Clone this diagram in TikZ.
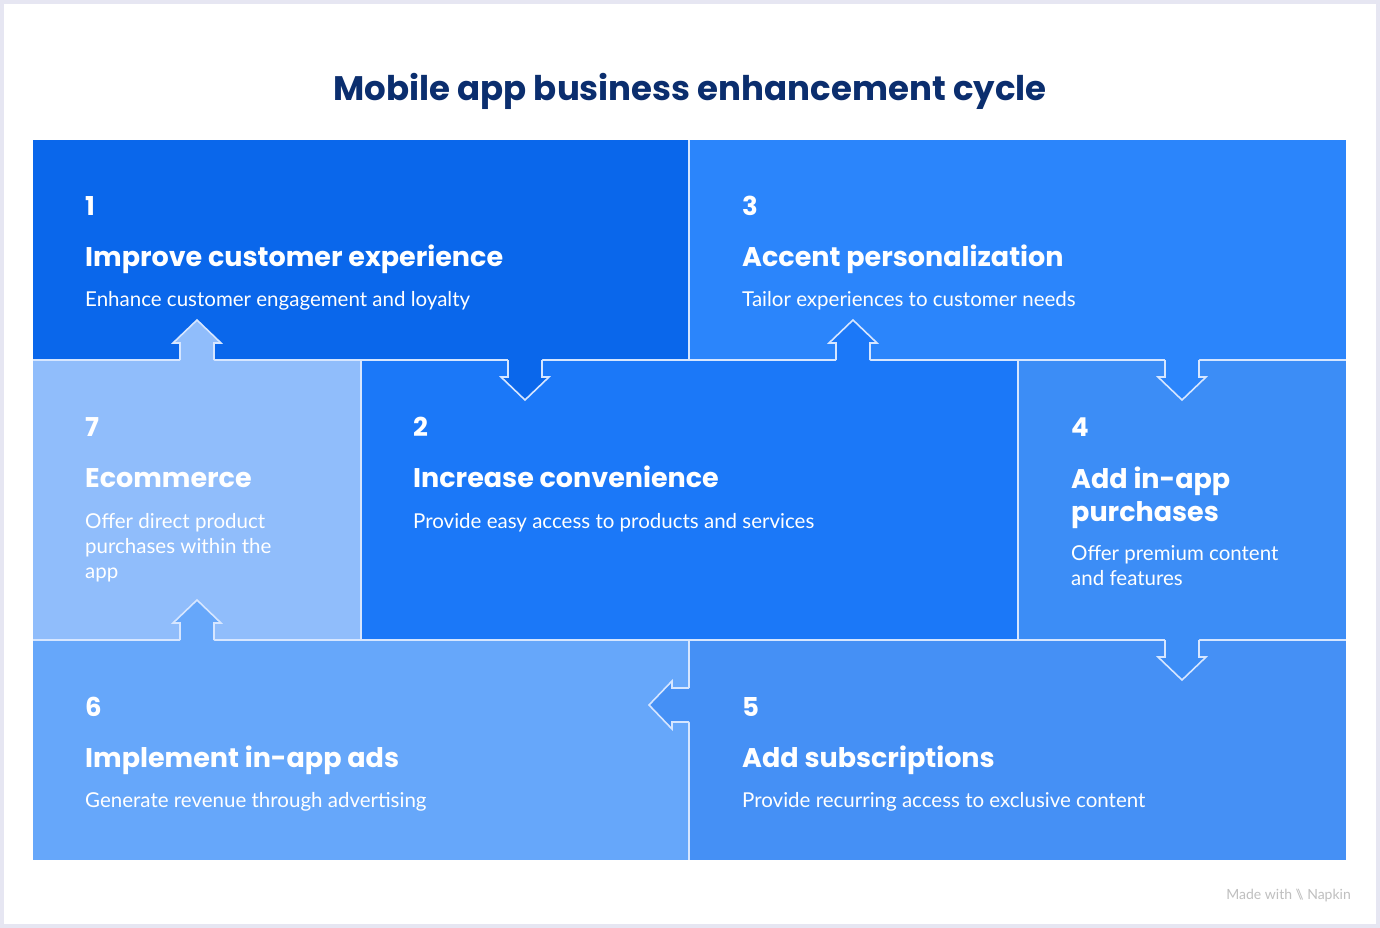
\documentclass[tikz,border=0pt]{standalone}
\usepackage{fontspec}
\setmainfont{Lato}
\newfontfamily\headfont{Poppins}
\definecolor{pa}{HTML}{0A67EB}
\definecolor{pb}{HTML}{1B78F8}
\definecolor{pc}{HTML}{2B85FB}
\definecolor{pd}{HTML}{3C8DF6}
\definecolor{pe}{HTML}{4590F5}
\definecolor{pf}{HTML}{66A7FA}
\definecolor{pg}{HTML}{90BDFB}
\definecolor{titlec}{HTML}{0B2E6E}
\definecolor{frame}{HTML}{E6E6F2}
\definecolor{edge}{HTML}{D6E6FF}
\newcommand\arrDown[3]{%
 \fill[#3] ({#1-17},{#2-2})--({#1-17},{#2+17})--({#1-24},{#2+17})--(#1,{#2+40})--({#1+24},{#2+17})--({#1+17},{#2+17})--({#1+17},{#2-2})--cycle;
 \draw[bord] ({#1-17},#2)--({#1-17},{#2+17})--({#1-24},{#2+17})--(#1,{#2+40})--({#1+24},{#2+17})--({#1+17},{#2+17})--({#1+17},#2);}
\newcommand\arrUp[3]{%
 \fill[#3] ({#1-17},{#2+2})--({#1-17},{#2-17})--({#1-24},{#2-17})--(#1,{#2-40})--({#1+24},{#2-17})--({#1+17},{#2-17})--({#1+17},{#2+2})--cycle;
 \draw[bord] ({#1-17},#2)--({#1-17},{#2-17})--({#1-24},{#2-17})--(#1,{#2-40})--({#1+24},{#2-17})--({#1+17},{#2-17})--({#1+17},#2);}
\newcommand\arrLeft[3]{%
 \fill[#3] ({#1+2},{#2-17})--({#1-17},{#2-17})--({#1-17},{#2-24})--({#1-40},#2)--({#1-17},{#2+24})--({#1-17},{#2+17})--({#1+2},{#2+17})--cycle;
 \draw[bord] (#1,{#2-17})--({#1-17},{#2-17})--({#1-17},{#2-24})--({#1-40},#2)--({#1-17},{#2+24})--({#1-17},{#2+17})--(#1,{#2+17});}
\begin{document}
\begin{tikzpicture}[x=1pt,y=-1pt,
 bord/.style={draw=edge,line width=1.6pt,line join=miter},
 num/.style={anchor=base west,inner sep=0,text=white,font=\headfont\bfseries\fontsize{26}{30}\selectfont},
 head/.style={anchor=base west,inner sep=0,text=white,font=\headfont\bfseries\fontsize{27}{33}\selectfont,align=left},
 body/.style={anchor=base west,inner sep=0,text=white,font=\fontsize{20.5}{25}\selectfont,align=left}]
\useasboundingbox (0,0) rectangle (1380,928);
\fill[frame] (0,0) rectangle (1380,928);
\fill[white] (4,4) rectangle (1376,924);
\node[anchor=base,inner sep=0,text=titlec,font=\headfont\bfseries\fontsize{34}{40}\selectfont] (title) at (690,101) {Mobile app business enhancement cycle};
% panels
\fill[pa] (33,140) rectangle (689,360);
\fill[pc] (689,140) rectangle (1346,360);
\fill[pg] (33,360) rectangle (361,640);
\fill[pb] (361,360) rectangle (1018,640);
\fill[pd] (1018,360) rectangle (1346,640);
\fill[pf] (33,640) rectangle (689,860);
\fill[pe] (689,640) rectangle (1346,860);
\draw[bord] (33,360)--(1346,360) (33,640)--(1346,640) (689,140)--(689,360) (689,640)--(689,860) (361,360)--(361,640) (1018,360)--(1018,640);
% arrows
\arrDown{525}{360}{pa}
\arrUp{853}{360}{pb}
\arrDown{1182}{360}{pc}
\arrDown{1182}{640}{pd}
\arrLeft{689}{705}{pe}
\arrUp{197}{640}{pf}
\arrUp{197}{360}{pg}
% texts
\node[num] (n1) at (85,215) {1};
\node[head] (h1) at (85,266) {Improve customer experience};
\node[body] (b1) at (85,306) {Enhance customer engagement and loyalty};
\node[num] (n3) at (742,215) {3};
\node[head] (h3) at (742,266) {Accent personalization};
\node[body] (b3) at (742,306) {Tailor experiences to customer needs};
\node[num] (n7) at (85,436) {7};
\node[head] (h7) at (85,487) {Ecommerce};
\node[body] (b7) at (85,578) {Offer direct product\\purchases within the\\app};
\node[num] (n2) at (413,436) {2};
\node[head] (h2) at (413,487) {Increase convenience};
\node[body] (b2) at (413,528) {Provide easy access to products and services};
\node[num] (n4) at (1071,436) {4};
\node[head] (h4) at (1071,521) {Add in-app\\purchases};
\node[body] (b4) at (1071,585) {Offer premium content\\and features};
\node[num] (n6) at (85,716) {6};
\node[head] (h6) at (85,767) {Implement in-app ads};
\node[body] (b6) at (85,807) {Generate revenue through advertising};
\node[num] (n5) at (742,716) {5};
\node[head] (h5) at (742,767) {Add subscriptions};
\node[body] (b5) at (742,807) {Provide recurring access to exclusive content};
\node[anchor=base east,inner sep=0,text=black!25,font=\fontsize{14}{16}\selectfont] (brand) at (1351,899) {Made with \textbackslash\!\!\textbackslash\ Napkin};
\end{tikzpicture}
\end{document}
